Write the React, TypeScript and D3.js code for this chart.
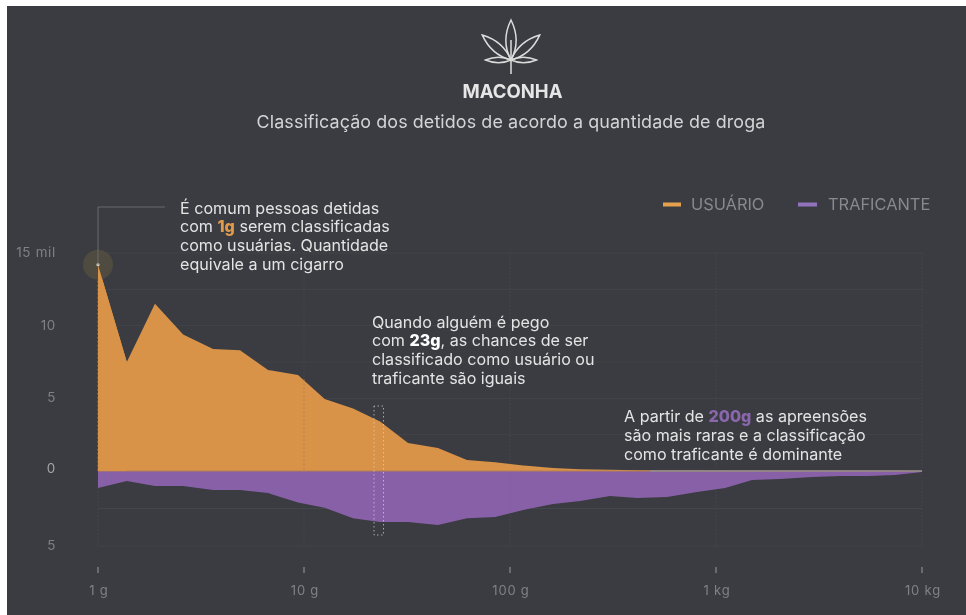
import React from "react";
import * as d3 from "d3";

const grams = [1,1.38,1.89,2.59,3.62,4.89,6.69,9.35,12.6,17.3,23.4,32,44.7,61.8,84.6,116,162,219,306,414,578,809,1107,1496,2046,2924,4000,5470,7396,10000];
const usuario = [14.2,7.5,11.5,9.4,8.4,8.3,6.95,6.6,4.95,4.3,3.4,1.93,1.58,0.76,0.6,0.38,0.2,0.12,0.08,0.05,0.04,0.03,0.02,0.02,0.01,0.01,0.01,0.01,0.01,0];
const traficante = [1.13,0.67,1.0,1.0,1.27,1.27,1.47,2.1,2.45,3.15,3.4,3.4,3.6,3.15,3.07,2.6,2.2,2.0,1.67,1.8,1.73,1.4,1.13,0.6,0.53,0.4,0.33,0.33,0.27,0.07];
const xTicks = [1,10,100,1000,10000];
const xTickLabels = ["1 g","10 g","100 g","1 kg","10 kg"];
const yTicks = [15,10,5,0,-5];
const yTickLabels = ["15 mil","10","5","0","5"];
const yGrid = [15,12.5,10,7.5,5,2.5,-2.5,-5];

const BG = "#3b3c41";
const ORANGE = "#d8934a";
const PURPLE = "#8861a8";
const FONT = "Inter, 'Noto Sans', sans-serif";

const x = d3.scaleLog().domain([1,10000]).range([98,922]);
const y = d3.scaleLinear().domain([-5,0,15]).range([546,471,253]);
const idx = grams.map((_,i)=>i);
const areaTop = d3.area<number>().x(i=>x(grams[i])).y0(y(0)).y1(i=>y(usuario[i]));
const areaBottom = d3.area<number>().x(i=>x(grams[i])).y0(y(0)).y1(i=>y(-traficante[i]));

type Seg = {t:string; b?:boolean; c?:string};
const notes: {x:number; y:number; lines:Seg[][]}[] = [
  {x:180,y:213.5,lines:[[{t:"É comum pessoas detidas"}],[{t:"com "},{t:"1g",b:true,c:"#e09a48"},{t:" serem classificadas"}],[{t:"como usuárias. Quantidade"}],[{t:"equivale a um cigarro"}]]},
  {x:372,y:327.5,lines:[[{t:"Quando alguém é pego"}],[{t:"com "},{t:"23g",b:true,c:"#ffffff"},{t:", as chances de ser"}],[{t:"classificado como usuário ou"}],[{t:"traficante são iguais"}]]},
  {x:624,y:422,lines:[[{t:"A partir de "},{t:"200g",b:true,c:"#8a66ad"},{t:" as apreensões"}],[{t:"são mais raras e a classificação"}],[{t:"como traficante é dominante"}]]},
];

const leaf = (len:number,w:number)=>`M0,0C${w},${-len*0.35} ${w*0.8},${-len*0.7} 0,${-len}C${-w*0.8},${-len*0.7} ${-w},${-len*0.35} 0,0Z`;

export default function App(){
  return (
    <svg width={966} height={615} style={{position:"absolute",left:0,top:0,display:"block",background:"#fff"}} fontFamily={FONT}>
      <defs><filter id="soft" x="-5%" y="-5%" width="110%" height="110%"><feGaussianBlur stdDeviation="0.5"/></filter></defs>
      <rect x={7} y={6} width={959} height={609} fill={BG}/>
      <g filter="url(#soft)">
        {/* icon */}
        <g transform="translate(511,60)" fill="none" stroke="#dcdcdc" strokeWidth={1.5}>
          <path d={leaf(40,7.5)}/>
          <path d={leaf(38,6.5)} transform="rotate(-49)"/>
          <path d={leaf(38,6.5)} transform="rotate(49)"/>
          <path d={leaf(25.5,4)} transform="rotate(-90)"/>
          <path d={leaf(25.5,4)} transform="rotate(90)"/>
          <path d="M0,-20V14"/>
        </g>
        <text x={512.5} y={98} textAnchor="middle" fill="#e6e6e6" fontSize={18.5} fontWeight={700}>MACONHA</text>
        <text x={511} y={127.5} textAnchor="middle" fill="#d4d4d6" fontSize={17.9} letterSpacing={0.1}>Classificação dos detidos de acordo a quantidade de droga</text>

        {/* grid */}
        {yGrid.map(v=><line key={v} x1={98} x2={922} y1={y(v)} y2={y(v)} stroke="#434449" strokeWidth={1}/>)}
        {xTicks.map(v=><line key={v} x1={x(v)} x2={x(v)} y1={y(15)} y2={y(-5)} stroke="#46474c" strokeWidth={1} strokeDasharray="1.5 2"/>)}

        {/* areas */}
        <path d={areaTop(idx)!} fill={ORANGE}/>
        <path d={areaBottom(idx)!} fill={PURPLE}/>
        <line x1={98} x2={922} y1={y(0)} y2={y(0)} stroke="#b58050" strokeWidth={1.2}/>
        <line x1={650} x2={922} y1={y(0)} y2={y(0)} stroke="#8f8a90" strokeWidth={1.4}/>

        {/* dotted verticals over areas */}
        {[1,10].map(v=><line key={v} x1={x(v)} x2={x(v)} y1={v===1?y(usuario[0]):y(6.3)} y2={y(0)} stroke="#b87f45" strokeWidth={1} strokeDasharray="2 2"/>)}
        <line x1={x(100)} x2={x(100)} y1={y(-0.1)} y2={y(-2.8)} stroke="#7d5c9b" strokeWidth={1} strokeDasharray="2 2"/>
        <path d={`M374,406V535H383.5V406H374`} fill="none" stroke="#d9d4cf" strokeWidth={1} strokeDasharray="1.5 2.5" opacity={0.7}/>

        {/* highlight */}
        <circle cx={x(1)} cy={y(usuario[0])} r={15} fill="#4f4b3f"/>
        <path d={areaTop(idx.slice(0,2))!} fill={ORANGE}/>
        <circle cx={x(1)} cy={y(usuario[0])} r={1.6} fill="#d9cdb8"/>
        <path d={`M${x(1)},${y(usuario[0])}V207H165`} fill="none" stroke="#6a6b70" strokeWidth={1}/>

        {/* notes */}
        {notes.map((n,i)=>(
          <text key={i} fill="#e4e4e4" fontSize={16.1}>
            {n.lines.map((l,j)=>(
              <tspan key={j} x={n.x} y={n.y+j*18.8}>
                {l.map((s,k)=><tspan key={k} fontWeight={s.b?800:400} fill={s.c}>{s.t}</tspan>)}
              </tspan>
            ))}
          </text>
        ))}

        {/* legend */}
        <rect x={663} y={202.5} width={18} height={4} fill="#e5a04e"/>
        <text x={691} y={209.5} fill="#88898e" fontSize={16.4}>USUÁRIO</text>
        <rect x={798} y={202.5} width={19} height={4} fill="#9272bd"/>
        <text x={828} y={209.5} fill="#88898e" fontSize={16.4}>TRAFICANTE</text>

        {/* y axis */}
        {yTicks.map((v,i)=>(
          <text key={i} x={56} y={y(v)+(v===0?2:4)} textAnchor="end" fill={v===0?"#a5a5a8":"#808185"} fontSize={13.4} letterSpacing={0.7}>{yTickLabels[i]}</text>
        ))}
        {/* x axis */}
        {xTicks.map((v,i)=>(
          <g key={v}>
            <line x1={x(v)} x2={x(v)} y1={567} y2={573} stroke="#8a8b8f" strokeWidth={1.2}/>
            <text x={x(v)+1} y={594.5} textAnchor="middle" fill="#808185" fontSize={13} letterSpacing={0.8}>{xTickLabels[i]}</text>
          </g>
        ))}
      </g>
    </svg>
  );
}
